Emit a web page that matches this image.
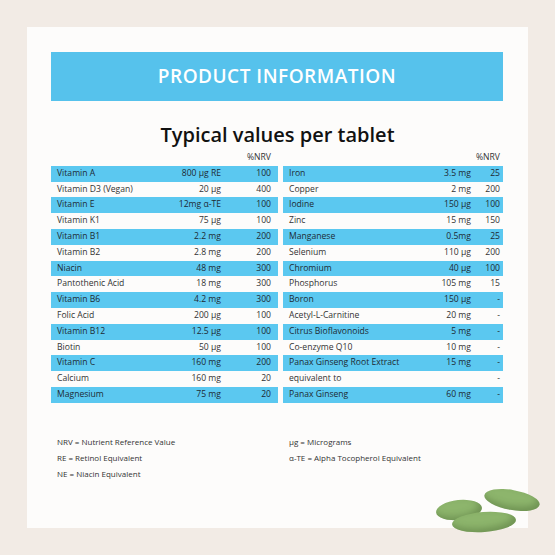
<!DOCTYPE html>
<html>
<head>
<meta charset="utf-8">
<script src="https://cdn.jsdelivr.net/npm/chart.js@4"></script>
<style>
body { margin:0; width:555px; height:555px; background:#f2ebe5; font-family:"Open Sans", Lato, sans-serif; overflow:hidden; position:relative; }
#card { position:absolute; left:27px; top:27px; width:501px; height:501px; background:#fdfcfb; }
#head { position:absolute; left:51px; top:52px; width:452px; height:49px; background:#56c2ec; color:#fff; font-size:19px; font-weight:600; letter-spacing:0.5px; text-align:center; line-height:49px; }
#title { position:absolute; left:0; width:555px; top:121px; text-align:center; font-size:20px; font-weight:600; color:#111; }
.tbl { position:absolute; top:150px; font-size:8.6px; color:#333; }
.row { position:relative; height:15.8px; line-height:15.8px; }
.row.on { background:#5bc8f0; color:#1d2a33; }
.row span { position:absolute; }
.note { position:absolute; font-size:8px; color:#333; }
.pill { position:absolute; background:#8db56c; border-radius:50%; box-shadow: inset -3px -4px 6px rgba(60,90,40,0.35); }
</style>
</head>
<body>
<div id="card"></div>
<div id="head">PRODUCT INFORMATION</div>
<div id="title">Typical values per tablet</div>
<div id="left" class="tbl" style="left:51px;width:227px"></div>
<div id="right" class="tbl" style="left:283px;width:220px"></div>
<div class="note" style="left:57px;top:436px">NRV = Nutrient Reference Value</div>
<div class="note" style="left:57px;top:452px">RE = Retinol Equivalent</div>
<div class="note" style="left:57px;top:468px">NE = Niacin Equivalent</div>
<div class="note" style="left:289px;top:436px">µg = Micrograms</div>
<div class="note" style="left:289px;top:452px">α-TE = Alpha Tocopherol Equivalent</div>
<div class="pill" style="left:484px;top:490px;width:56px;height:20px;transform:rotate(10deg)"></div>
<div class="pill" style="left:436px;top:500px;width:46px;height:20px;transform:rotate(-6deg)"></div>
<div class="pill" style="left:452px;top:512px;width:64px;height:20px;transform:rotate(-4deg)"></div>
<script>
var leftNames = ['Vitamin A','Vitamin D3 (Vegan)','Vitamin E','Vitamin K1','Vitamin B1','Vitamin B2','Niacin','Pantothenic Acid','Vitamin B6','Folic Acid','Vitamin B12','Biotin','Vitamin C','Calcium','Magnesium'];
var leftAmounts = ['800 µg RE','20 µg','12mg α-TE','75 µg','2.2 mg','2.8 mg','48 mg','18 mg','4.2 mg','200 µg','12.5 µg','50 µg','160 mg','160 mg','75 mg'];
var leftNrv = ['100','400','100','100','200','200','300','300','300','100','100','100','200','20','20'];
var rightNames = ['Iron','Copper','Iodine','Zinc','Manganese','Selenium','Chromium','Phosphorus','Boron','Acetyl-L-Carnitine','Citrus Bioflavonoids','Co-enzyme Q10','Panax Ginseng Root Extract','equivalent to','Panax Ginseng'];
var rightAmounts = ['3.5 mg','2 mg','150 µg','15 mg','0.5mg','110 µg','40 µg','105 mg','150 µg','20 mg','5 mg','10 mg','15 mg','','60 mg'];
var rightNrv = ['25','200','100','150','25','200','100','15','-','-','-','-','-','-','-'];

function build(id, names, amounts, nrv, amtRight, nrvRight) {
    var el = document.getElementById(id);
    var h = document.createElement('div');
    h.className = 'row';
    h.innerHTML = '<span style="right:' + nrvRight + 'px">%NRV</span>';
    el.appendChild(h);
    names.forEach(function(n, i) {
        var r = document.createElement('div');
        r.className = 'row' + (i % 2 === 0 ? ' on' : '');
        r.innerHTML =
            '<span style="left:6px">' + n + '</span>' +
            '<span style="right:' + amtRight + 'px">' + amounts[i] + '</span>' +
            '<span style="right:' + nrvRight + 'px">' + nrv[i] + '</span>';
        el.appendChild(r);
    });
}
build('left', leftNames, leftAmounts, leftNrv, 57, 7);
build('right', rightNames, rightAmounts, rightNrv, 32, 3);
</script>
</body>
</html>
